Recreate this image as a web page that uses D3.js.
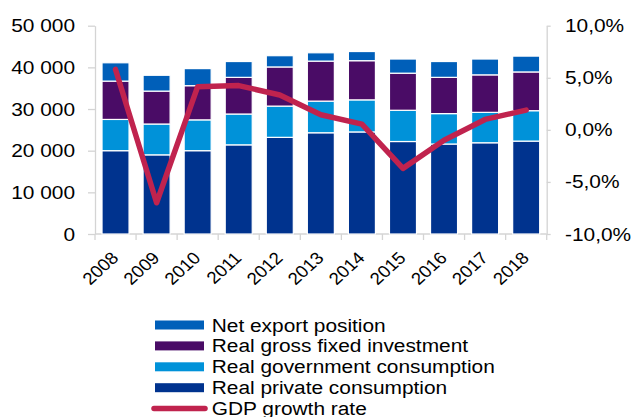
<!DOCTYPE html>
<html>
<head>
<meta charset="utf-8">
<script src="https://cdn.jsdelivr.net/npm/d3@7"></script>
<style>
  html, body { margin: 0; padding: 0; background: #fff; }
  svg { display: block; font-family: "Liberation Sans", Arial, sans-serif; }
</style>
</head>
<body>
<svg id="chart" width="633" height="417"></svg>
<script>
// Years on the category axis
const years = ["2008","2009","2010","2011","2012","2013","2014","2015","2016","2017","2018"];

// GDP components (stacked bars, left axis)
const privateConsumption = [20000, 19000, 20000, 21400, 23200, 24300, 24500, 22200, 21600, 21900, 22300];
const governmentConsumption = [7500, 7400, 7400, 7400, 7500, 7600, 7700, 7500, 7300, 7300, 7300];
const fixedInvestment = [9200, 7900, 8200, 8800, 9400, 9600, 9400, 8900, 8700, 9000, 9300];
const netExports = [4400, 3800, 4100, 3800, 2700, 2000, 2200, 3400, 3800, 3800, 3800];

// GDP growth rate in % (line, right axis)
const gdpGrowth = [5.8, -7.0, 4.15, 4.25, 3.35, 1.45, 0.55, -3.7, -1.0, 1.0, 1.9];

// Axis ticks
const leftTicks = [0, 10000, 20000, 30000, 40000, 50000];
const rightTicks = [-10, -5, 0, 5, 10];

const seriesNames = ["Real private consumption", "Real government consumption", "Real gross fixed investment", "Net export position"];
const seriesValues = [privateConsumption, governmentConsumption, fixedInvestment, netExports];
const seriesColors = ["#00338e", "#0092d9", "#4a0c66", "#005fb9"];
const lineName = "GDP growth rate";
const lineColor = "#c0234e";

const svg = d3.select("#chart");
const plot = { left: 95, right: 546.7, top: 25.7, bottom: 234 };
const axisColor = "#d4d4d4";
const textScale = 1.16;

const x = d3.scaleBand().domain(years).range([plot.left, plot.right]).paddingInner(0.342).paddingOuter(0.171);
const yL = d3.scaleLinear().domain([0, 50000]).range([plot.bottom, plot.top]);
const yR = d3.scaleLinear().domain([-10, 10]).range([plot.bottom, plot.top]);

const fmtThousands = v => d3.format(",")(v).replace(/,/g, " ");
const fmtPct = v => d3.format(".1f")(v).replace("\u2212", "-").replace(".", ",") + "%";

// Stacked data
const rows = years.map((yr, i) => {
  const r = { year: yr };
  seriesNames.forEach((n, k) => r[n] = seriesValues[k][i]);
  return r;
});
const stacked = d3.stack().keys(seriesNames)(rows);

// Axes
function styleAxis(g) {
  g.selectAll("path.domain").attr("stroke", axisColor).attr("stroke-width", 1.3);
  g.selectAll(".tick line").attr("stroke", axisColor).attr("stroke-width", 1.3);
}

const gLeft = svg.append("g").attr("transform", `translate(${plot.left},0)`)
  .call(d3.axisLeft(yL).tickValues(leftTicks).tickSize(7).tickSizeOuter(0).tickFormat(""));
styleAxis(gLeft);

const gRight = svg.append("g").attr("transform", `translate(${plot.right},0)`)
  .call(d3.axisRight(yR).tickValues(rightTicks).tickSize(4).tickSizeOuter(0).tickFormat(""));
styleAxis(gRight);

// Bottom axis: ticks at the category boundaries
const boundaries = years.map(yr => x(yr) - x.step() * x.paddingInner() / 2).concat([plot.right]);
const gBottom = svg.append("g").attr("transform", `translate(0,${plot.bottom})`);
gBottom.append("line").attr("x1", plot.left).attr("x2", plot.right).attr("y1", 0).attr("y2", 0)
  .attr("stroke", axisColor).attr("stroke-width", 1.3);
gBottom.selectAll("line.tk").data(boundaries).join("line").attr("class", "tk")
  .attr("x1", d => d).attr("x2", d => d).attr("y1", 0).attr("y2", 6)
  .attr("stroke", axisColor).attr("stroke-width", 1.3);

// Horizontal text with a slight horizontal stretch
function stretchedText(parent, tx, ty, str, anchor) {
  return parent.append("text")
    .attr("transform", `translate(${tx},${ty}) scale(${textScale},1)`)
    .attr("text-anchor", anchor)
    .attr("font-size", 18)
    .attr("fill", "#000")
    .text(str);
}

leftTicks.forEach(v => stretchedText(svg, 75, yL(v) + 6.5, fmtThousands(v), "end"));
rightTicks.forEach(v => stretchedText(svg, 565, yR(v) + 6.5, fmtPct(v), "start"));

// Rotated year labels
svg.append("g").selectAll("text").data(years).join("text")
  .attr("transform", d => `translate(${x(d) + x.bandwidth() / 2 + 4},${plot.bottom + 25}) scale(1.1,1) rotate(-45)`)
  .attr("text-anchor", "end")
  .attr("font-size", 17)
  .attr("fill", "#000")
  .text(d => d);

// Bars
svg.append("g").selectAll("g").data(stacked).join("g")
  .attr("fill", (d, i) => seriesColors[i])
  .selectAll("rect").data(d => d).join("rect")
  .attr("x", d => x(d.data.year))
  .attr("width", x.bandwidth())
  .attr("y", d => yL(d[1]))
  .attr("height", d => yL(d[0]) - yL(d[1]))
  .attr("stroke", "#ffffff")
  .attr("stroke-width", 1.2);

// GDP growth line
const line = d3.line()
  .x((d, i) => x(years[i]) + x.bandwidth() / 2)
  .y(d => yR(d));
svg.append("path").datum(gdpGrowth)
  .attr("d", line)
  .attr("fill", "none")
  .attr("stroke", lineColor)
  .attr("stroke-width", 5.5)
  .attr("stroke-linejoin", "round")
  .attr("stroke-linecap", "round");

// Legend
const legendX = 155, legendW = 49, legendTextX = 211.7, legendY0 = 325, legendStep = 20.9;
const legendItems = seriesNames.slice().reverse().map((n, i) => ({ name: n, color: seriesColors[seriesNames.length - 1 - i], type: "bar" }))
  .concat([{ name: lineName, color: lineColor, type: "line" }]);
const lg = svg.append("g");
legendItems.forEach((it, i) => {
  const cy = legendY0 + i * legendStep;
  if (it.type === "bar") {
    lg.append("rect").attr("x", legendX).attr("y", cy - 4.5).attr("width", legendW).attr("height", 9)
      .attr("fill", it.color);
  } else {
    lg.append("line").attr("x1", legendX - 1).attr("x2", legendX + legendW + 1).attr("y1", cy).attr("y2", cy)
      .attr("stroke", it.color).attr("stroke-width", 5.5).attr("stroke-linecap", "round");
  }
  stretchedText(lg, legendTextX, cy + 6.5, it.name, "start");
});
</script>
</body>
</html>
